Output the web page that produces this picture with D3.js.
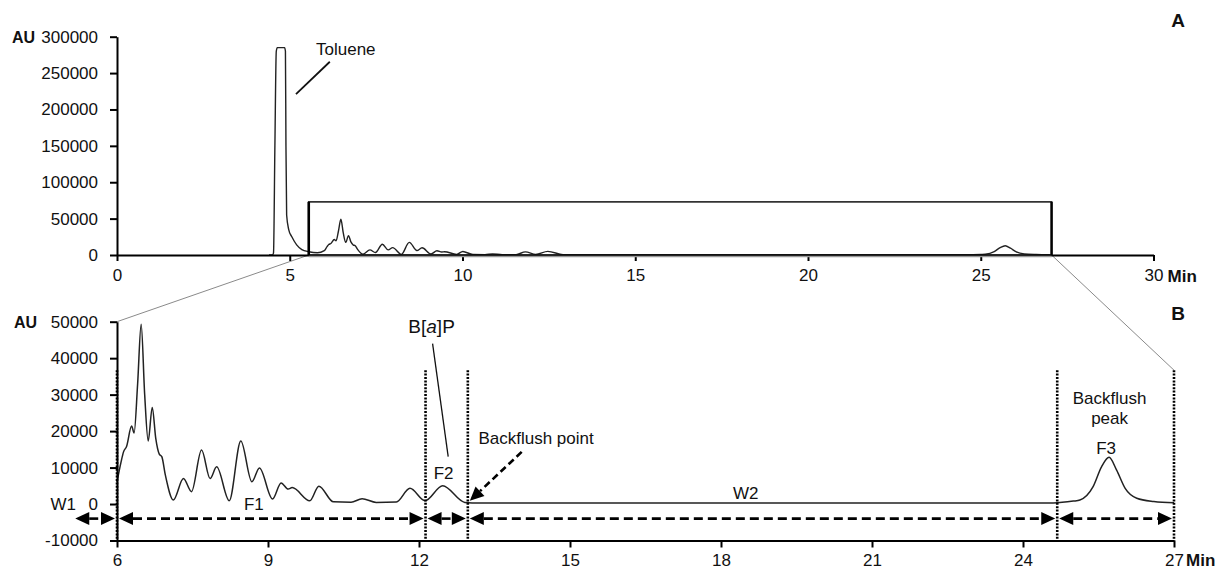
<!DOCTYPE html>
<html><head><meta charset="utf-8">
<script src="https://cdn.jsdelivr.net/npm/d3@7"></script>
<style>
body{margin:0;background:#fff;}
svg{display:block;font-family:"Liberation Sans",Arial,sans-serif;}
</style></head><body>
<svg id="chart" width="1219" height="571"></svg>
<script>
// ---------- data ----------
const times = [4.40,4.50,4.53,4.57,4.61,4.64,4.85,4.875,4.89,4.91,4.97,5.06,5.20,5.35,5.55,5.80,
  6.00,6.08,6.13,6.19,6.29,6.34,6.41,6.48,6.55,6.62,
  6.70,6.77,6.84,6.89,6.96,7.12,7.32,7.48,7.68,7.85,
  7.98,8.23,8.46,8.68,8.83,9.09,9.26,9.40,9.48,9.83,
  10.01,10.30,10.65,10.87,11.15,11.55,11.82,12.12,12.47,12.91,
  13.20,24.60,25.00,25.13,25.39,25.56,25.71,25.86,26.03,26.26,
  26.60,27.00];
const signal = [0,0,3000,150000,280000,285000,285000,280000,150000,55000,35000,25000,14000,7500,4500,3000,
  6000,11500,14300,15800,21400,19500,33000,49300,30000,17300,
  26500,18000,13700,13000,8000,1100,7000,3400,14800,7000,
  10200,900,17300,6100,9900,1400,5800,4100,4500,900,
  4900,600,500,1450,450,550,4300,900,5000,450,
  250,300,800,1100,4700,10200,12800,9300,4300,1600,
  700,350];

const topXTicks = [0,5,10,15,20,25,30];
const topYTicks = [0,50000,100000,150000,200000,250000,300000];
const botXTicks = [6,9,12,15,18,21,24,27];
const botYTicks = [-10000,0,10000,20000,30000,40000,50000];

const zoomWindow = [5.55, 27.05];     // minutes, boxed region in panel A
const zoomBoxTop = 73000;             // AU
const fractionBounds = [6, 12.13, 12.97, 24.68, 27];
const fractionNames = ["W1","F1","F2","W2","F3"];
const fractionStart = [5.17, 6, 12.13, 12.97, 24.68];
const fractionEnd   = [6, 12.13, 12.97, 24.68, 27];
const fractionLabelT = [4.93, 8.72, 12.49, 18.49, 25.65];
const fractionLabelV = [-1600, -1600, 6800, 1500, 13800];
const dottedTop = 36700, dottedBottom = -10000, arrowLevel = -4000;

// ---------- scales ----------
const svg = d3.select('#chart');
const xTop = d3.scaleLinear().domain([0,30]).range([117,1153.5]);
const yTop = d3.scaleLinear().domain([0,300000]).range([255,36.7]);
const xBot = d3.scaleLinear().domain([6,27]).range([117,1174]);
const yBot = d3.scaleLinear().domain([-10000,50000]).range([540.5,321.7]);

const pts = times.map((t,i)=>({t, v:signal[i]}));
const FONT = '"Liberation Sans",Arial,sans-serif';

function styleAxis(g){
  g.attr('font-family',FONT).attr('font-size',17);
  g.select('.domain').attr('stroke','#000').attr('stroke-width',2);
  g.selectAll('.tick line').attr('stroke','#000').attr('stroke-width',2);
  g.selectAll('.tick text').attr('fill','#111');
}
function txt(x,y,s,opt={}){
  const t = svg.append('text').attr('x',x).attr('y',y).text(s)
    .attr('font-size',opt.size||17).attr('font-family',FONT)
    .attr('text-anchor',opt.anchor||'start').attr('fill','#111');
  if(opt.bold) t.attr('font-weight','bold');
  return t;
}
function arrowHead(x1,y1,x2,y2){
  const a=Math.atan2(y2-y1,x2-x1), L=14, w=6.5;
  const bx=x2-L*Math.cos(a), by=y2-L*Math.sin(a);
  const px=-Math.sin(a)*w, py=Math.cos(a)*w;
  svg.append('path').attr('d',`M${x2},${y2}L${bx+px},${by+py}L${bx-px},${by-py}Z`).attr('fill','#000');
  return [bx,by];
}

// ---------- zoom connectors ----------
svg.append('line').attr('x1',xBot(6)).attr('y1',yBot(50000)).attr('x2',xTop(zoomWindow[0])).attr('y2',yTop(0))
  .attr('stroke','#8a8a8a').attr('stroke-width',1);
svg.append('line').attr('x1',xTop(zoomWindow[1])).attr('y1',yTop(0)).attr('x2',xBot(27)).attr('y2',yBot(dottedTop))
  .attr('stroke','#8a8a8a').attr('stroke-width',1);

// ---------- panel A ----------
const line = (xs,ys)=>d3.line().x(d=>xs(d.t)).y(d=>ys(d.v)).curve(d3.curveMonotoneX);
svg.append('path').datum(pts).attr('d',line(xTop,yTop)).attr('fill','none').attr('stroke','#222').attr('stroke-width',1.4);

// zoom box
svg.append('rect').attr('x',xTop(zoomWindow[0])).attr('y',yTop(zoomBoxTop))
  .attr('width',xTop(zoomWindow[1])-xTop(zoomWindow[0])).attr('height',yTop(0)-yTop(zoomBoxTop))
  .attr('fill','none').attr('stroke','#222').attr('stroke-width',1.6);
svg.append('line').attr('x1',xTop(zoomWindow[0])).attr('x2',xTop(zoomWindow[0])).attr('y1',yTop(zoomBoxTop)).attr('y2',yTop(0))
  .attr('stroke','#000').attr('stroke-width',2.6);
svg.append('line').attr('x1',xTop(zoomWindow[1])).attr('x2',xTop(zoomWindow[1])).attr('y1',yTop(zoomBoxTop)).attr('y2',yTop(0))
  .attr('stroke','#000').attr('stroke-width',2.4);

const gxT = svg.append('g').attr('transform',`translate(0,${yTop(0)})`)
  .call(d3.axisBottom(xTop).tickValues(topXTicks).tickSize(6).tickSizeOuter(0).tickPadding(8).tickFormat(d=>String(d)));
styleAxis(gxT);
const gyT = svg.append('g').attr('transform',`translate(${xTop(0)},0)`)
  .call(d3.axisLeft(yTop).tickValues(topYTicks).tickSize(7).tickSizeOuter(0).tickPadding(12).tickFormat(d=>String(d)));
styleAxis(gyT);
svg.append('line').attr('x1',xTop(zoomWindow[0])).attr('x2',xTop(zoomWindow[1])).attr('y1',yTop(0)+1.5).attr('y2',yTop(0)+1.5)
  .attr('stroke','#999').attr('stroke-width',1.5);

txt(12, yTop(300000)+6, 'AU', {bold:true, size:16});
txt(xTop(30)+14, yTop(0)+27, 'Min', {bold:true});
txt(1178, 27, 'A', {bold:true, size:19, anchor:'middle'});

// Toluene annotation
const tolText = {t:5.76, v:275200}, tolLine = [{t:5.18,v:221000},{t:6.16,v:265600}];
txt(xTop(tolText.t), yTop(tolText.v), 'Toluene');
svg.append('line').attr('x1',xTop(tolLine[0].t)).attr('y1',yTop(tolLine[0].v))
  .attr('x2',xTop(tolLine[1].t)).attr('y2',yTop(tolLine[1].v)).attr('stroke','#111').attr('stroke-width',1.8);

// ---------- panel B ----------
svg.append('path').datum(pts.filter(d=>d.t>=6)).attr('d',line(xBot,yBot))
  .attr('fill','none').attr('stroke','#222').attr('stroke-width',1.5);

const gxB = svg.append('g').attr('transform',`translate(0,${yBot(-10000)})`)
  .call(d3.axisBottom(xBot).tickValues(botXTicks).tickSize(7).tickSizeOuter(0).tickPadding(6).tickFormat(d=>String(d)));
styleAxis(gxB);
const gyB = svg.append('g').attr('transform',`translate(${xBot(6)},0)`)
  .call(d3.axisLeft(yBot).tickValues(botYTicks).tickSize(7).tickSizeOuter(0).tickPadding(12).tickFormat(d=>String(d)));
styleAxis(gyB);

txt(14, yBot(50000)+6, 'AU', {bold:true, size:16});
txt(xBot(27)+12, yBot(-10000)+25, 'Min', {bold:true});
txt(1178, 320, 'B', {bold:true, size:19, anchor:'middle'});

// dotted fraction boundaries
fractionBounds.forEach(t=>{
  svg.append('line').attr('x1',xBot(t)).attr('x2',xBot(t)).attr('y1',yBot(dottedTop)).attr('y2',yBot(dottedBottom))
    .attr('stroke','#000').attr('stroke-width',2.6).attr('stroke-dasharray','2,1.4');
});

// double-headed dashed arrows
const ay = yBot(arrowLevel);
fractionNames.forEach((n,i)=>{
  const xa = xBot(fractionStart[i]) + (i===0?0:2), xb = xBot(fractionEnd[i]) - 2;
  const [b1] = arrowHead(xb, ay, xa, ay);
  const [b2] = arrowHead(xa, ay, xb, ay);
  svg.append('line').attr('x1',b1).attr('x2',b2).attr('y1',ay).attr('y2',ay)
    .attr('stroke','#000').attr('stroke-width',2.6).attr('stroke-dasharray','9,5');
  txt(xBot(fractionLabelT[i]), yBot(fractionLabelV[i]), n, {anchor:'middle'});
});

// B[a]P annotation
const bapText = {t:12.25, v:46900}, bapLine = [{t:12.27,v:44000},{t:12.58,v:13000}];
const bt = svg.append('text').attr('x',xBot(bapText.t)).attr('y',yBot(bapText.v)).attr('text-anchor','middle')
  .attr('font-size',19).attr('font-family',FONT).attr('fill','#111');
bt.append('tspan').text('B[');
bt.append('tspan').attr('font-style','italic').text('a');
bt.append('tspan').text(']P');
svg.append('line').attr('x1',xBot(bapLine[0].t)).attr('y1',yBot(bapLine[0].v))
  .attr('x2',xBot(bapLine[1].t)).attr('y2',yBot(bapLine[1].v)).attr('stroke','#111').attr('stroke-width',1.3);

// Backflush point annotation
const bpText = {t:13.18, v:16400}, bpArrow = [{t:14.04,v:14300},{t:13.01,v:900}];
txt(xBot(bpText.t), yBot(bpText.v), 'Backflush point');
{
  const x1=xBot(bpArrow[0].t), y1=yBot(bpArrow[0].v), x2=xBot(bpArrow[1].t), y2=yBot(bpArrow[1].v);
  const [bx,by] = arrowHead(x1,y1,x2,y2);
  svg.append('line').attr('x1',x1).attr('y1',y1).attr('x2',bx).attr('y2',by)
    .attr('stroke','#000').attr('stroke-width',2.6).attr('stroke-dasharray','7,4');
}

// Backflush peak annotation
const bpkT = 25.72, bpkV = [27500, 22000];
txt(xBot(bpkT), yBot(bpkV[0]), 'Backflush', {anchor:'middle'});
txt(xBot(bpkT), yBot(bpkV[1]), 'peak', {anchor:'middle'});
</script>
</body></html>
